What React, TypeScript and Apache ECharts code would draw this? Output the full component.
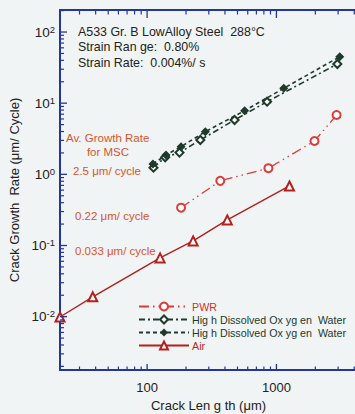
import React, { useEffect, useRef } from "react";
import * as echarts from "echarts";

// Axis extents (log scales)
const X_MIN = 21.2;
const X_MAX = 4200;
const Y_MIN = 0.00178;
const Y_MAX = 204;

// Tick values and labels
const xMajorTicks = [100, 1000];
const xTickLabels = ["100", "1000"];
const xMinorTicks = [30, 40, 50, 60, 70, 80, 90, 200, 300, 400, 500, 600, 700, 800, 900, 2000, 3000, 4000];
const yExponents = [-2, -1, 0, 1, 2];
const yMajorTicks = [0.01, 0.1, 1, 10, 100];
const yMinorTicks = [
  0.002, 0.003, 0.004, 0.005, 0.006, 0.007, 0.008, 0.009,
  0.02, 0.03, 0.04, 0.05, 0.06, 0.07, 0.08, 0.09,
  0.2, 0.3, 0.4, 0.5, 0.6, 0.7, 0.8, 0.9,
  2, 3, 4, 5, 6, 7, 8, 9,
  20, 30, 40, 50, 60, 70, 80, 90, 200,
];

// Series: crack length (µm) vs growth rate (µm/cycle)
const pwrX = [183, 368, 867, 1970, 2920];
const pwrY = [0.34, 0.81, 1.22, 2.94, 6.83];
const hdoOpenX = [112, 138, 178, 258, 475, 847, 2960];
const hdoOpenY = [1.24, 1.74, 2.02, 3.04, 5.81, 10.5, 35.5];
const hdoFilledX = [111, 140, 183, 282, 568, 1140, 3090];
const hdoFilledY = [1.4, 1.87, 2.45, 3.98, 7.85, 16.2, 45.0];
const airX = [21.2, 38, 126, 227, 417, 1262];
const airY = [0.0099, 0.019, 0.067, 0.116, 0.229, 0.687];

const seriesNames = {
  pwr: "PWR",
  hdoOpen: "Hig h Dissolved Ox yg en  Water",
  hdoFilled: "Hig h Dissolved Ox yg en  Water ",
  air: "Air",
};

const AXIS_COLOR = "#22369c";
const RED = "#e03a3a";
const DARK_RED = "#b3201e";
const GREEN = "#1d3a2c";
const NOTE = "#d9542c";
const FONT = "'Liberation Sans', Arial, sans-serif";

const zip = (xs: number[], ys: number[]) => xs.map((x, i) => [x, ys[i]]);

const frameLine = { show: true, onZero: false, lineStyle: { color: AXIS_COLOR, width: 2 } };

// Inward tick marks drawn as thin rectangles anchored on the frame
function ticks(points: number[][], w: number, h: number, dx: number, dy: number) {
  return {
    type: "scatter",
    data: points,
    symbol: "rect",
    symbolSize: [w, h],
    symbolOffset: [dx, dy],
    silent: true,
    clip: false,
    z: 6,
    itemStyle: { color: AXIS_COLOR, opacity: 1 },
  };
}

function note(text: string, x: number, y: number, color: string, size: number, align = "left") {
  return {
    type: "text",
    x,
    y,
    silent: true,
    style: { text, fill: color, fontSize: size, fontFamily: FONT, verticalAlign: "middle", align },
  };
}

export default function App() {
  const ref = useRef<HTMLDivElement>(null);

  useEffect(() => {
    if (!ref.current) return;
    const chart = echarts.init(ref.current, null, { renderer: "svg" });
    const left = (vs: number[]) => vs.map((v) => [X_MIN, v]);
    const top = (vs: number[]) => vs.map((v) => [v, Y_MAX]);
    const bottom = (vs: number[]) => vs.map((v) => [v, Y_MIN]);
    const option: any = {
      animation: false,
      textStyle: { fontFamily: FONT },
      grid: {
        left: 60,
        right: -2,
        top: 10,
        bottom: 44,
        outerBoundsMode: "none",
        containLabel: false,
        show: false,
      },
      xAxis: [
        {
          type: "log",
          logBase: 10,
          min: X_MIN,
          max: X_MAX,
          position: "bottom",
          name: "Crack Len g th (μm)",
          nameLocation: "middle",
          nameGap: 29,
          nameTextStyle: { fontSize: 13, color: "#222", fontFamily: FONT },
          axisLine: frameLine,
          axisTick: { show: false },
          splitLine: { show: false },
          axisLabel: {
            margin: 11,
            fontSize: 13,
            color: "#222",
            fontFamily: FONT,
            formatter: (v: number) => {
              const i = xMajorTicks.findIndex((t) => Math.abs(t - v) / t < 1e-6);
              return i >= 0 ? xTickLabels[i] : "";
            },
          },
        },
        {
          type: "log",
          logBase: 10,
          min: X_MIN,
          max: X_MAX,
          position: "top",
          axisLine: frameLine,
          axisTick: { show: false },
          axisLabel: { show: false },
          splitLine: { show: false },
        },
      ],
      yAxis: {
        type: "log",
        logBase: 10,
        min: Y_MIN,
        max: Y_MAX,
        position: "left",
        name: "Crack Growth  Rate (μm/ Cycle)",
        nameLocation: "middle",
        nameGap: 30,
        nameRotate: 90,
        nameTextStyle: { fontSize: 13, color: "#222", fontFamily: FONT },
        axisLine: frameLine,
        axisTick: { show: false },
        splitLine: { show: false },
        axisLabel: {
          margin: 5,
          color: "#222",
          fontFamily: FONT,
          formatter: (v: number) => {
            const e = Math.log10(v);
            const r = Math.round(e);
            if (Math.abs(e - r) > 1e-6 || !yExponents.includes(r)) return "";
            return `{b|10}{s|${r}}`;
          },
          rich: {
            b: { fontSize: 13.5, color: "#222", fontFamily: FONT },
            s: { fontSize: 9.5, color: "#222", fontFamily: FONT, verticalAlign: "top", padding: [0, 0, 6, 0] },
          },
        },
      },
      legend: {
        orient: "vertical",
        left: 133,
        top: 296,
        itemWidth: 50,
        itemHeight: 10,
        itemGap: 2,
        selectedMode: false,
        formatter: (n: string) => n.trim(),
        textStyle: { fontSize: 10.7, fontFamily: FONT, padding: [0, 0, 0, -2] },
        data: [
          { name: seriesNames.pwr, textStyle: { color: "#d2302a" } },
          { name: seriesNames.hdoOpen, textStyle: { color: GREEN } },
          { name: seriesNames.hdoFilled, textStyle: { color: GREEN } },
          { name: seriesNames.air, textStyle: { color: "#c0281f" } },
        ],
      },
      graphic: [
        note("A533 Gr. B LowAlloy Steel  288°C", 78, 32, "#222", 12.4),
        note("Strain Ran ge:  0.80%", 78, 47, "#222", 12.4),
        note("Strain Rate:  0.004%/ s", 78, 63, "#222", 12.4),
        note("Av. Growth Rate", 66, 138, NOTE, 11.5),
        note("for MSC", 108, 152, NOTE, 11.5, "center"),
        note("2.5 μm/ cycle", 73, 171, NOTE, 11.5),
        note("0.22 μm/ cycle", 75, 216, NOTE, 11.5),
        note("0.033 μm/ cycle", 75, 251, NOTE, 11.5),
      ],
      series: [
        {
          name: seriesNames.pwr,
          type: "line",
          data: zip(pwrX, pwrY),
          symbol: "emptyCircle",
          symbolSize: 8,
          clip: false,
          color: RED,
          itemStyle: { color: RED, borderWidth: 1.3 },
          lineStyle: { color: RED, width: 1.3, type: [10, 4, 1.5, 4, 1.5, 4] },
        },
        {
          name: seriesNames.hdoOpen,
          type: "line",
          data: zip(hdoOpenX, hdoOpenY),
          symbol: "emptyDiamond",
          symbolSize: 8,
          clip: false,
          color: GREEN,
          itemStyle: { color: GREEN, borderWidth: 1.8 },
          lineStyle: { color: GREEN, width: 1.6, type: [6, 3, 2, 3] },
        },
        {
          name: seriesNames.hdoFilled,
          type: "line",
          data: zip(hdoFilledX, hdoFilledY),
          symbol: "diamond",
          symbolSize: 9,
          clip: false,
          color: GREEN,
          itemStyle: { color: GREEN },
          lineStyle: { color: GREEN, width: 1.6, type: [4, 3] },
        },
        {
          name: seriesNames.air,
          type: "line",
          data: zip(airX, airY),
          symbol: "emptyTriangle",
          symbolSize: 9,
          clip: false,
          color: DARK_RED,
          itemStyle: { color: DARK_RED, borderWidth: 1.5 },
          lineStyle: { color: DARK_RED, width: 1.4 },
        },
        ticks(left(yMajorTicks), 7, 1.3, 3.5, 0),
        ticks(left(yMinorTicks), 4, 1.2, 2, 0),
        ticks(top(xMajorTicks), 1.3, 8, 0, 4),
        ticks(top(xMinorTicks), 1.2, 4.5, 0, 2.25),
        ticks(bottom(xMajorTicks), 1.3, 6, 0, -3),
        ticks(bottom(xMinorTicks), 1.2, 3.5, 0, -1.75),
      ],
    };
    chart.setOption(option);
    return () => chart.dispose();
  }, []);

  return (
    <div
      ref={ref}
      style={{ position: "fixed", left: 0, top: 0, width: 355, height: 414, background: "#f1f4f4" }}
    />
  );
}
